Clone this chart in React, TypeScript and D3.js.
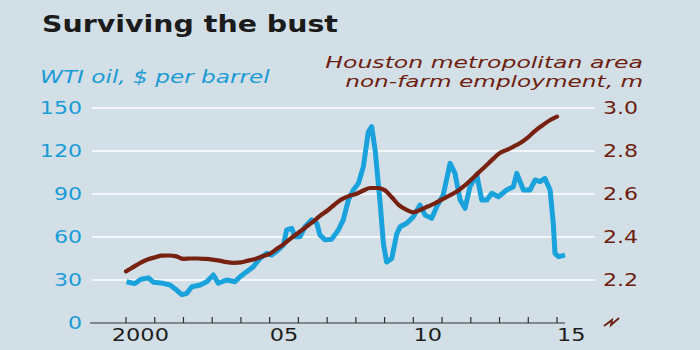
import React, { useRef, useEffect } from 'react';
import * as d3 from 'd3';

// WTI oil, $ per barrel (decimal year, price)
const oilDates = [
  2000.02, 2000.31, 2000.52, 2000.78, 2000.95, 2001.3, 2001.53, 2001.76, 2001.94, 2002.11,
  2002.29, 2002.58, 2002.81, 2003.04, 2003.21, 2003.5, 2003.79, 2003.97, 2004.2, 2004.43,
  2004.66, 2004.9, 2005.07, 2005.3, 2005.48, 2005.59, 2005.77, 2005.88, 2006.06, 2006.23,
  2006.46, 2006.64, 2006.75, 2006.93, 2007.16, 2007.39, 2007.56, 2007.74, 2007.91, 2008.09,
  2008.26, 2008.43, 2008.55, 2008.67, 2008.84, 2008.96, 2009.07, 2009.25, 2009.42, 2009.54,
  2009.77, 2010.0, 2010.23, 2010.41, 2010.64, 2010.81, 2011.04, 2011.28, 2011.45, 2011.63,
  2011.8, 2011.97, 2012.21, 2012.38, 2012.56, 2012.73, 2012.96, 2013.25, 2013.48, 2013.6,
  2013.83, 2014.06, 2014.24, 2014.41, 2014.58, 2014.76, 2014.87, 2014.93, 2015.05, 2015.28,
];
const oilPrices = [
  28.8, 27.5, 30.5, 31.5, 28.5, 27.7, 26.5, 23, 19.8, 20.5,
  25.3, 26.5, 28.8, 33.5, 27.7, 30, 28.8, 32.3, 35.8, 39.3,
  45, 48.6, 47.4, 50.9, 54.4, 64.9, 66.1, 60.2, 60.2, 67.2,
  72, 69.6, 61.4, 58, 58.5, 64.9, 72, 85.8, 92.8, 97.5,
  109, 133, 137, 120.7, 85, 55, 42.5, 45, 62, 67.2,
  69.6, 74.2, 82.3, 75.3, 73, 81, 89.3, 111.4, 104.4, 85.8,
  80, 95.1, 103.3, 85.8, 85.8, 90.5, 88.1, 92.8, 95.1, 104.4,
  92.8, 92.8, 99.8, 98.6, 100.9, 92.8, 69.6, 48.6, 46.3, 47.4,
];

// Houston non-farm employment, m (quarterly)
const jobDates = [
  2000, 2000.25, 2000.5, 2000.75, 2001, 2001.25, 2001.5, 2001.75, 2002, 2002.25,
  2002.5, 2002.75, 2003, 2003.25, 2003.5, 2003.75, 2004, 2004.25, 2004.5, 2004.75,
  2005, 2005.25, 2005.5, 2005.75, 2006, 2006.25, 2006.5, 2006.75, 2007, 2007.25,
  2007.5, 2007.75, 2008, 2008.25, 2008.5, 2008.75, 2009, 2009.25, 2009.5, 2009.75,
  2010, 2010.25, 2010.5, 2010.75, 2011, 2011.25, 2011.5, 2011.75, 2012, 2012.25,
  2012.5, 2012.75, 2013, 2013.25, 2013.5, 2013.75, 2014, 2014.25, 2014.5, 2014.75, 2015,
];
const jobValues = [
  2.24, 2.26, 2.28, 2.295, 2.305, 2.313, 2.314, 2.31, 2.298, 2.3,
  2.3, 2.298, 2.295, 2.29, 2.283, 2.28, 2.282, 2.29, 2.298, 2.31,
  2.322, 2.345, 2.368, 2.395, 2.42, 2.445, 2.47, 2.498, 2.522, 2.55,
  2.575, 2.59, 2.6, 2.615, 2.628, 2.628, 2.618, 2.585, 2.548, 2.527,
  2.515, 2.527, 2.542, 2.556, 2.575, 2.592, 2.61, 2.635, 2.665, 2.697,
  2.728, 2.76, 2.79, 2.805, 2.822, 2.84, 2.865, 2.895, 2.92, 2.943, 2.96,
];

const oilTicks = [0, 30, 60, 90, 120, 150];
const jobTicks = [2.2, 2.4, 2.6, 2.8, 3.0];
const yearTicks = [2000, 2001, 2002, 2003, 2004, 2005, 2006, 2007, 2008, 2009, 2010, 2011, 2012, 2013, 2014, 2015];
const labelYears = [2000, 2005, 2010, 2015];
const yearLabels = ['2000', '05', '10', '15'];

const BLUE = '#1aa2dc';
const BROWN = '#772210';
const BROWN_TEXT = '#6e1e0e';
const BLUE_TEXT = '#1b9bd6';
const FONT = 'DejaVu Sans, sans-serif';

const App = () => {
  const svgRef = useRef(null);

  useEffect(() => {
    const w = 700;
    const h = 350;
    const svg = d3.select(svgRef.current).attr('width', w).attr('height', h);
    svg.selectAll('*').remove();

    svg.append('rect').attr('width', w).attr('height', h).attr('fill', '#d3dfe7');

    // scales
    const x = d3.scaleLinear().domain([2000, 2015]).range([126, 557]);
    const yOil = d3.scaleLinear().domain([0, 150]).range([323, 108]);
    const yJobs = d3.scaleLinear().domain([2, 3]).range([323, 108]);

    // stretched text helper (the original face is wide)
    const stretch = (tx, ty, str, opts) => {
      const t = svg
        .append('text')
        .attr('transform', `translate(${tx},${ty})`)
        .attr('text-anchor', opts.anchor || 'start')
        .style('font-family', FONT)
        .style('font-size', opts.size + 'px')
        .style('font-weight', opts.weight || 'normal')
        .style('font-style', opts.italic ? 'italic' : 'normal')
        .style('fill', opts.fill)
        .text(str);
      let sx = opts.sx || 1;
      if (opts.width) {
        const len = t.node().getComputedTextLength();
        if (len > 0) sx = opts.width / len;
      }
      t.attr('transform', `translate(${tx},${ty}) scale(${sx},1)`);
      return t;
    };

    // gridlines
    svg
      .selectAll('.grid')
      .data(oilTicks.filter((d) => d > 0))
      .join('line')
      .attr('class', 'grid')
      .attr('x1', 92)
      .attr('x2', 595)
      .attr('y1', (d) => yOil(d))
      .attr('y2', (d) => yOil(d))
      .attr('stroke', '#ffffff')
      .attr('stroke-width', 1.6);

    // x axis
    svg
      .append('line')
      .attr('x1', 90)
      .attr('x2', 565)
      .attr('y1', yOil(0))
      .attr('y2', yOil(0))
      .attr('stroke', '#2e2e2e')
      .attr('stroke-width', 1.2);
    svg
      .selectAll('.tick')
      .data(yearTicks)
      .join('line')
      .attr('class', 'tick')
      .attr('x1', (d) => x(d))
      .attr('x2', (d) => x(d))
      .attr('y1', yOil(0))
      .attr('y2', yOil(0) - 6)
      .attr('stroke', '#2e2e2e')
      .attr('stroke-width', 1.2);

    labelYears.forEach((yr, i) => {
      stretch(x(yr + 0.5), 341, yearLabels[i], { size: 17, fill: '#1e1e1e', anchor: 'middle', sx: 1.32 });
    });

    // left axis labels
    oilTicks.forEach((t) => {
      stretch(82, yOil(t) + 6, String(t), { size: 17, fill: BLUE_TEXT, anchor: 'end', sx: 1.3 });
    });

    // right axis labels
    jobTicks.forEach((t) => {
      stretch(603, yJobs(t) + 6, t.toFixed(1), { size: 17, fill: BROWN_TEXT, anchor: 'start', sx: 1.3 });
    });

    // axis break mark
    svg
      .append('path')
      .attr('d', 'M604,326 L612,320 L611,325 L619,318')
      .attr('fill', 'none')
      .attr('stroke', BROWN_TEXT)
      .attr('stroke-width', 1.8);

    // lines
    const oilLine = d3
      .line()
      .x((d, i) => x(oilDates[i]))
      .y((d) => yOil(d));
    svg
      .append('path')
      .attr('d', oilLine(oilPrices))
      .attr('fill', 'none')
      .attr('stroke', BLUE)
      .attr('stroke-width', 5)
      .attr('stroke-linejoin', 'round');

    const jobLine = d3
      .line()
      .x((d, i) => x(jobDates[i]))
      .y((d) => yJobs(d))
      .curve(d3.curveMonotoneX);
    svg
      .append('path')
      .attr('d', jobLine(jobValues))
      .attr('fill', 'none')
      .attr('stroke', BROWN)
      .attr('stroke-width', 4.2)
      .attr('stroke-linejoin', 'round')
      .attr('stroke-linecap', 'round');

    // titles
    stretch(42, 32, 'Surviving the bust', { size: 23, weight: 'bold', fill: '#1b1b1b', width: 296 });
    stretch(40, 83, 'WTI oil, $ per barrel', { size: 18, italic: true, fill: BLUE_TEXT, width: 230 });
    stretch(643, 68, 'Houston metropolitan area', { size: 16, italic: true, fill: BROWN_TEXT, anchor: 'end', width: 318 });
    stretch(643, 87, 'non-farm employment, m', { size: 16, italic: true, fill: BROWN_TEXT, anchor: 'end', width: 298 });
  }, []);

  return <svg ref={svgRef} style={{ position: 'fixed', left: 0, top: 0, display: 'block' }}></svg>;
};

export default App;
